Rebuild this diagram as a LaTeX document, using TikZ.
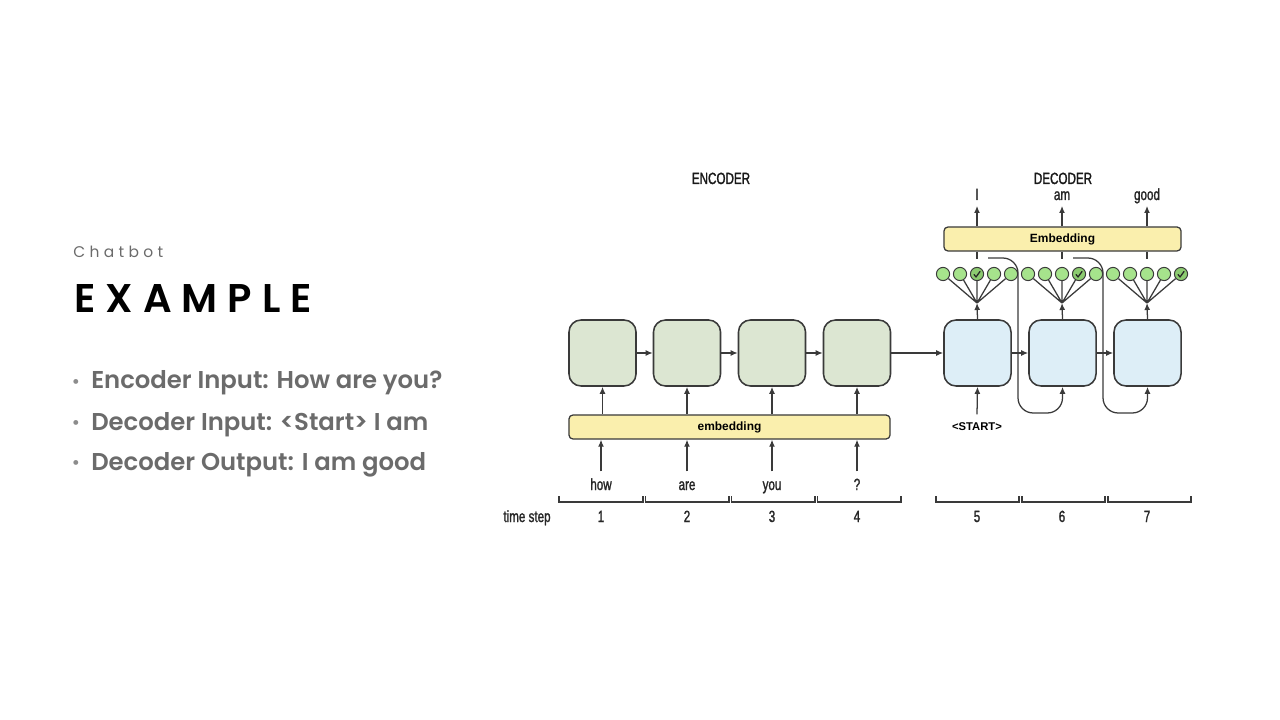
\documentclass[tikz,border=0pt]{standalone}
\usepackage{fontspec}
\setmainfont{Poppins}[BoldFont={* SemiBold}]
\newfontfamily\figfont{Liberation Sans}[FakeStretch=0.72, FakeBold=1.5]
\newfontfamily\tagfont{Liberation Sans}
\usetikzlibrary{arrows.meta, positioning, calc}
\usepackage{xcolor}
\definecolor{SlideGray}{HTML}{6B6B6B}
\definecolor{BulletGray}{HTML}{8C8C8C}
\definecolor{LineGray}{HTML}{3A3A3A}
\definecolor{EncFill}{HTML}{DCE6D2}
\definecolor{DecFill}{HTML}{DDEEF7}
\definecolor{EmbFill}{HTML}{FAEFAD}
\definecolor{SoftGreen}{HTML}{A6E38C}
\definecolor{PickGreen}{HTML}{8CCB70}
\tikzset{
  encbox/.style={
    rectangle, draw=LineGray, line width=1.1pt, fill=EncFill,
    rounded corners=0.3cm, minimum width=1.675cm, minimum height=1.65cm
  },
  decbox/.style={encbox, fill=DecFill},
  embbar/.style={
    rectangle, draw=LineGray, line width=0.9pt, fill=EmbFill,
    rounded corners=0.1cm, minimum height=0.6cm, inner sep=0pt,
    font=\tagfont\bfseries\fontsize{8.5}{10}\selectfont
  },
  softnode/.style={
    circle, draw=LineGray, line width=0.7pt, fill=SoftGreen,
    minimum size=0.33cm, inner sep=0pt
  },
  picknode/.style={softnode, fill=PickGreen},
  wordlabel/.style={
    anchor=base, inner sep=2pt, text height=8pt, text depth=2pt,
    font=\figfont\fontsize{11.5}{13}\selectfont, text=black!85
  },
  steplabel/.style={anchor=base, inner sep=1pt, font=\figfont\fontsize{11.5}{13}\selectfont, text=black!85},
  headlabel/.style={anchor=base, inner sep=1pt, font=\figfont\fontsize{11.5}{13}\selectfont, text=black!90},
  link/.style={draw=LineGray, line width=0.9pt},
  arrow/.style={
    link, -{Latex[length=5pt, width=4.2pt]}
  },
  bracket/.style={draw=LineGray, line width=0.9pt},
  checkmark/.style={draw=black!85, line width=0.9pt, line cap=round, line join=round}
}

\begin{document}
\begin{tikzpicture}[x=0.025cm, y=-0.025cm]
\useasboundingbox (0,0) rectangle (1280,720);

% ── Slide text ────────────────────────────────────────────────────────────────

\node[anchor=base west, inner sep=0pt, text=SlideGray] (kicker) at (73,258)
  {\fontsize{11}{13}\selectfont\addfontfeatures{LetterSpace=28}Chatbot};
\node[anchor=base west, inner sep=0pt, text=black] (title) at (74,313)
  {\bfseries\fontsize{28.5}{32}\selectfont\addfontfeatures{LetterSpace=25}EXAMPLE};

\node[text=BulletGray, font=\fontsize{14}{16}\selectfont, inner sep=0pt] (b1) at (76,384) {\textbullet};
\node[text=BulletGray, font=\fontsize{14}{16}\selectfont, inner sep=0pt] (b2) at (76,425) {\textbullet};
\node[text=BulletGray, font=\fontsize{14}{16}\selectfont, inner sep=0pt] (b3) at (76,465) {\textbullet};

\node[anchor=base west, inner sep=0pt, text=SlideGray, font=\bfseries\fontsize{17.3}{20}\selectfont] (i1) at (91,389) {Encoder Input: How are you?};
\node[anchor=base west, inner sep=0pt, text=SlideGray, font=\bfseries\fontsize{17.3}{20}\selectfont] (i2) at (91,430) {Decoder Input: <Start> I am};
\node[anchor=base west, inner sep=0pt, text=SlideGray, font=\bfseries\fontsize{17.3}{20}\selectfont] (i3) at (91,470) {Decoder Output: I am good};

% ── Recurrent cells ───────────────────────────────────────────────────────────

\node[encbox] (e1) at (602.5,353) {};
\node[encbox] (e2) at (687,353) {};
\node[encbox] (e3) at (772,353) {};
\node[encbox] (e4) at (857,353) {};

\node[decbox] (d5) at (977.5,353) {};
\node[decbox] (d6) at (1062.5,353) {};
\node[decbox] (d7) at (1147.5,353) {};

\node[headlabel] (enchead) at (721,184) {ENCODER};
\node[headlabel] (dechead) at (1063,184) {DECODER};

% ── Embedding layers ──────────────────────────────────────────────────────────

\node[embbar, minimum width=8.025cm] (embE) at (729.5,427) {embedding};
\node[embbar, minimum width=5.925cm] (embD) at (1062.5,239) {Embedding};

% ── Words in and out ──────────────────────────────────────────────────────────

\node[wordlabel] (w1) at (601,490) {how};
\node[wordlabel] (w2) at (687,490) {are};
\node[wordlabel] (w3) at (772,490) {you};
\node[wordlabel] (w4) at (857,490) {?};

\node[inner sep=1pt, font=\tagfont\bfseries\fontsize{8}{10}\selectfont] (start) at (977,427) {<START>};

\node[wordlabel] (o5) at (977,200) {I};
\node[wordlabel] (o6) at (1062,200) {am};
\node[wordlabel] (o7) at (1147,200) {good};

% ── Output choices (softmax) ──────────────────────────────────────────────────

\node[softnode] (s5a) at (943,274) {};
\node[softnode] (s5b) at (960,274) {};
\node[picknode] (s5c) at (977,274) {};
\node[softnode] (s5d) at (994,274) {};
\node[softnode] (s5e) at (1011,274) {};

\node[softnode] (s6a) at (1028,274) {};
\node[softnode] (s6b) at (1045,274) {};
\node[softnode] (s6c) at (1062,274) {};
\node[picknode] (s6d) at (1079,274) {};
\node[softnode] (s6e) at (1096,274) {};

\node[softnode] (s7a) at (1113,274) {};
\node[softnode] (s7b) at (1130,274) {};
\node[softnode] (s7c) at (1147,274) {};
\node[softnode] (s7d) at (1164,274) {};
\node[picknode] (s7e) at (1181,274) {};

\draw[checkmark] ($(s5c)+(-3,0.5)$) -- ++(2,2.5) -- ++(4,-5.5);
\draw[checkmark] ($(s6d)+(-3,0.5)$) -- ++(2,2.5) -- ++(4,-5.5);
\draw[checkmark] ($(s7e)+(-3,0.5)$) -- ++(2,2.5) -- ++(4,-5.5);

\coordinate (f5) at (977,303);
\coordinate (f6) at (1062,303);
\coordinate (f7) at (1147,303);

\draw[link] (f5) -- (s5a) (f5) -- (s5b) (f5) -- (s5c) (f5) -- (s5d) (f5) -- (s5e);
\draw[link] (f6) -- (s6a) (f6) -- (s6b) (f6) -- (s6c) (f6) -- (s6d) (f6) -- (s6e);
\draw[link] (f7) -- (s7a) (f7) -- (s7b) (f7) -- (s7c) (f7) -- (s7d) (f7) -- (s7e);

% ── Arrows ────────────────────────────────────────────────────────────────────

% hidden state chain
\draw[arrow] (e1.east) -- (e2.west);
\draw[arrow] (e2.east) -- (e3.west);
\draw[arrow] (e3.east) -- (e4.west);
\draw[arrow] (e4.east) -- (d5.west);
\draw[arrow] (d5.east) -- (d6.west);
\draw[arrow] (d6.east) -- (d7.west);

% words into the encoder
\draw[arrow] ([yshift=3pt]w1.north) -- (w1.north |- embE.south);
\draw[arrow] ([yshift=3pt]w2.north) -- (w2.north |- embE.south);
\draw[arrow] ([yshift=3pt]w3.north) -- (w3.north |- embE.south);
\draw[arrow] ([yshift=3pt]w4.north) -- (w4.north |- embE.south);

\draw[arrow] (embE.north -| e1) -- (e1.south);
\draw[arrow] (embE.north -| e2) -- (e2.south);
\draw[arrow] (embE.north -| e3) -- (e3.south);
\draw[arrow] (embE.north -| e4) -- (e4.south);

% decoder in and out
\draw[arrow] ([yshift=5pt]start.north) -- (d5.south);

\draw[arrow] (d5.north) -- (f5);
\draw[arrow] (d6.north) -- (f6);
\draw[arrow] (d7.north) -- (f7);

\draw[arrow] (embD.north -| o5) -- (o5.south);
\draw[arrow] (embD.north -| o6) -- (o6.south);
\draw[arrow] (embD.north -| o7) -- (o7.south);

\draw[link] (embD.south -| o5) -- ++(0,7);
\draw[link] (embD.south -| o6) -- ++(0,7);
\draw[link] (embD.south -| o7) -- ++(0,7);

% previous output fed back as next input
\coordinate (fb5) at (988,258);
\coordinate (fb6) at (1073,258);
\draw[arrow, rounded corners=0.38cm] (fb5) -- (1018,258) -- (1018,413) -- (d6.south |- 0,413) -- (d6.south);
\draw[arrow, rounded corners=0.38cm] (fb6) -- (1103,258) -- (1103,413) -- (d7.south |- 0,413) -- (d7.south);

% ── Time steps ────────────────────────────────────────────────────────────────

\draw[bracket] (559,496) |- (643,502) -- (643,496);
\draw[bracket] (645.5,496) |- (729,502) -- (729,496);
\draw[bracket] (731.5,496) |- (815,502) -- (815,496);
\draw[bracket] (817.5,496) |- (901,502) -- (901,496);
\draw[bracket] (936,496) |- (1019,502) -- (1019,496);
\draw[bracket] (1022,496) |- (1105,502) -- (1105,496);
\draw[bracket] (1108,496) |- (1191,502) -- (1191,496);

\node[steplabel] (tstep) at (527,522) {time step};
\node[steplabel] (t1) at (601,522) {1};
\node[steplabel] (t2) at (687,522) {2};
\node[steplabel] (t3) at (772,522) {3};
\node[steplabel] (t4) at (857,522) {4};
\node[steplabel] (t5) at (977,522) {5};
\node[steplabel] (t6) at (1062,522) {6};
\node[steplabel] (t7) at (1147,522) {7};

\end{tikzpicture}
\end{document}
